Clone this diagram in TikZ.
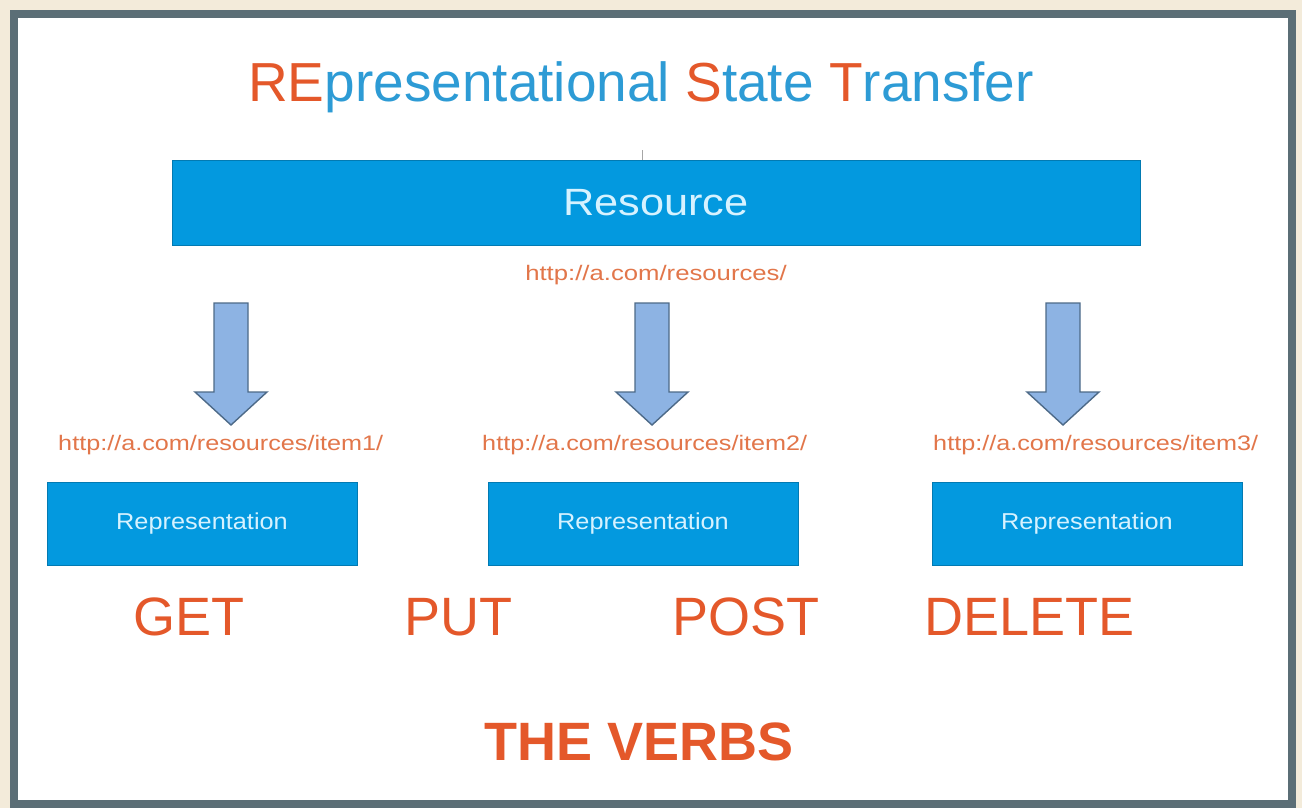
\documentclass[tikz,border=0pt]{standalone}
\usepackage{fontspec}
\setmainfont{Liberation Sans}
\definecolor{bgbeige}{HTML}{F3EBDA}
\definecolor{framegray}{HTML}{5B6E76}
\definecolor{restorange}{HTML}{E4582A}
\definecolor{resttitleblue}{HTML}{2D9BD5}
\definecolor{boxblue}{HTML}{0399DF}
\definecolor{urlorange}{HTML}{E2764A}
\definecolor{reptext}{HTML}{D6F2FF}
\definecolor{arrowfill}{HTML}{8DB3E3}
\definecolor{arrowline}{HTML}{4D6A88}
\tikzset{
  bluebox/.style={fill=boxblue, draw=boxblue!80!black, line width=0.8pt},
  urltext/.style={text=urlorange, inner sep=0pt, anchor=base west, font=\fontsize{21}{24}\selectfont, xscale=1.2},
  reptxt/.style={text=reptext, inner sep=0pt, font=\fontsize{23}{26}\selectfont, xscale=1.1},
  verbtext/.style={text=restorange, inner sep=0pt, anchor=base west, font=\fontsize{54}{60}\selectfont},
  blockarrow/.style={fill=arrowfill, draw=arrowline, line width=1.4pt, line join=miter}
}
\begin{document}
\begin{tikzpicture}[x=1pt,y=-1pt]
\useasboundingbox (0,0) rectangle (1302,808);
\fill[bgbeige] (0,0) rectangle (1302,808);
\filldraw[fill=white, draw=framegray, line width=8pt] (14,14) rectangle (1292,804);

% title
\node[inner sep=0pt, anchor=base west, font=\fontsize{55}{60}\selectfont] (title) at (248,101)
  {\textcolor{restorange}{RE}\textcolor{resttitleblue}{presentational} \textcolor{restorange}{S}\textcolor{resttitleblue}{tate} \textcolor{restorange}{T}\textcolor{resttitleblue}{ransfer}};

% small tick
\draw[gray!70, line width=1pt] (642,150) -- (642,160);

% resource
\draw[bluebox] (172,160) rectangle (1140,245);
\coordinate (rescenter) at (656,203);
\node[text=reptext, inner sep=0pt, font=\fontsize{38}{42}\selectfont, xscale=1.14] (resource) at (rescenter) {Resource};
\node[urltext, anchor=base, xscale=1.02] (resurl) at (656,280) {http://a.com/resources/};

% arrows
\foreach \cx/\nm in {231/a1, 652/a2, 1063/a3}{
  \draw[blockarrow] (\cx-17,303) -- (\cx+17,303) -- (\cx+17,392) -- (\cx+36,392) -- (\cx,425)
     -- (\cx-36,392) -- (\cx-17,392) -- cycle;
}

% item urls
\node[urltext] (url1) at (58,450) {http://a.com/resources/item1/};
\node[urltext] (url2) at (482,450) {http://a.com/resources/item2/};
\node[urltext] (url3) at (933,450) {http://a.com/resources/item3/};

% representation boxes
\draw[bluebox] (47,482) rectangle (357,565);
\draw[bluebox] (488,482) rectangle (798,565);
\draw[bluebox] (932,482) rectangle (1242,565);
\node[reptxt] (rep1) at (202,524) {Representation};
\node[reptxt] (rep2) at (643,524) {Representation};
\node[reptxt] (rep3) at (1087,524) {Representation};

% verbs
\node[verbtext] (get) at (133,635) {GET};
\node[verbtext] (put) at (404,635) {PUT};
\node[verbtext] (post) at (672,635) {POST};
\node[verbtext] (delete) at (924,635) {DELETE};

\node[text=restorange, inner sep=0pt, anchor=base, font=\bfseries\fontsize{54}{60}\selectfont] (verbs) at (639,760) {THE VERBS};
\end{tikzpicture}
\end{document}
